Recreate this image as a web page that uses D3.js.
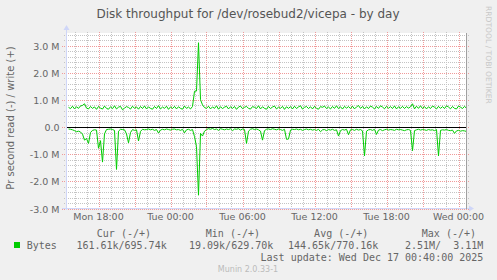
<!DOCTYPE html>
<html>
<head>
<meta charset="utf-8">
<script src="https://cdn.jsdelivr.net/npm/d3@7"></script>
<style>
  body { margin: 0; background: #f0f0f0; }
  svg { display: block; }
  text { font-family: "DejaVu Sans", sans-serif; fill: #666; }
  .mono { font-family: "DejaVu Sans Mono", monospace; font-size: 10px; white-space: pre; }
</style>
</head>
<body>
<script>
// time window of the "by day" graph (UTC, one sample every 10 minutes)
var startTime = Date.UTC(2025, 11, 15, 15, 20);
var endTime = Date.UTC(2025, 11, 17, 0, 40);
var stepMinutes = 10;

// write (+) bytes per second, in k
var writeK = [
  730,680,770,670,750,690,780,800,860,700,
  670,760,690,745,655,760,700,665,775,690,
  660,750,680,785,670,735,765,640,700,755,
  725,665,770,690,745,660,760,685,780,670,
  745,690,660,760,685,790,670,740,690,770,
  655,745,685,765,670,750,690,660,775,690,
  740,670,760,1320,1330,3110,1010,820,720,690,
  770,670,745,690,785,660,750,685,735,770,
  670,750,690,760,655,740,775,680,730,765,
  690,665,755,730,685,785,670,750,690,660,
  760,685,740,775,670,735,690,765,655,750,
  690,755,670,770,685,745,785,665,730,760,
  685,750,670,765,690,660,755,730,775,685,
  740,670,760,690,785,680,750,665,765,700,
  755,685,770,670,745,795,690,760,670,750,
  685,775,735,670,760,690,785,740,675,765,
  695,755,685,780,670,750,690,765,685,755,
  700,750,860,670,770,690,785,685,755,670,
  750,685,775,735,670,765,690,755,685,785,
  740,675,760,690,670,775,735,685,765,695
];

// read (-) bytes per second, in k (drawn below zero)
var readK = [
  70,80,100,130,170,150,180,260,480,420,
  600,200,120,100,110,780,500,1290,250,90,
  80,70,90,120,1560,150,80,90,100,250,
  580,200,90,120,100,510,160,80,100,90,
  70,100,80,120,90,220,110,80,100,70,
  90,110,80,70,100,90,120,80,210,100,
  80,120,90,350,720,2510,230,330,150,90,
  60,80,50,90,70,120,60,80,100,70,
  90,60,130,70,80,60,110,70,90,600,
  150,80,60,90,70,100,150,480,130,80,
  70,90,60,80,100,70,90,120,80,450,
  440,110,80,90,70,100,80,120,90,70,
  100,80,110,90,120,80,170,100,90,130,
  90,110,80,120,100,330,130,90,110,80,
  280,100,90,120,80,110,90,140,1060,150,
  100,90,120,80,270,110,90,130,100,80,
  110,90,100,120,80,100,90,110,130,100,
  90,120,870,130,100,80,110,90,100,120,
  90,110,100,130,90,1060,120,100,110,90,
  120,130,110,230,140,120,150,130,140,160
];

var yTicks = [-3e6, -2e6, -1e6, 0, 1e6, 2e6, 3e6];
var yTickLabels = ["-3.0 M", "-2.0 M", "-1.0 M", "0.0", "1.0 M", "2.0 M", "3.0 M"];

var xTickTimes = [
  Date.UTC(2025, 11, 15, 18), Date.UTC(2025, 11, 16, 0), Date.UTC(2025, 11, 16, 6),
  Date.UTC(2025, 11, 16, 12), Date.UTC(2025, 11, 16, 18), Date.UTC(2025, 11, 17, 0)
];
var xTickLabels = ["Mon 18:00", "Tue 00:00", "Tue 06:00", "Tue 12:00", "Tue 18:00", "Wed 00:00"];

var legendHeads = ["Cur (-/+)", "Min (-/+)", "Avg (-/+)", "Max (-/+)"];
var legendValues = ["161.61k/695.74k", "19.09k/629.70k", "144.65k/770.16k", "2.51M/  3.11M"];

var width = 497, height = 280;
var plotLeft = 66.5, plotRight = 466.5, plotTop = 33.5, plotBottom = 208.5;

var svg = d3.select('body').append('svg').attr('width', width).attr('height', height);

svg.append('rect').attr('width', width).attr('height', height).attr('fill', '#f0f0f0');

var x = d3.scaleUtc().domain([startTime, endTime]).range([plotLeft, plotRight]);
var y = d3.scaleLinear().domain([-3e6, 3.45e6]).range([plotBottom, plotTop]);

svg.append('rect')
  .attr('x', plotLeft).attr('y', plotTop - 0.5)
  .attr('width', plotRight - plotLeft).attr('height', plotBottom - plotTop + 0.5)
  .attr('fill', '#fff');

// minor grid
var minorY = d3.range(-30, 35, 2).map(function (v) { return v * 1e5; })
  .filter(function (v) { return Math.round(v / 1e5) % 10 !== 0; });
var hours = d3.utcHour.range(new Date(startTime), new Date(endTime));
var minorX = hours.filter(function (d) { return d.getUTCHours() % 3 !== 0; });
var majorX = hours.filter(function (d) { return d.getUTCHours() % 3 === 0; });

var grid = svg.append('g').attr('shape-rendering', 'crispEdges');
grid.selectAll('line.hmin').data(minorY).enter().append('line')
  .attr('x1', plotLeft - 3).attr('x2', plotRight + 2)
  .attr('y1', function (d) { return Math.round(y(d)) + 0.5; })
  .attr('y2', function (d) { return Math.round(y(d)) + 0.5; })
  .attr('stroke', '#c4c4c4').attr('stroke-dasharray', '1,1');
grid.selectAll('line.vmin').data(minorX).enter().append('line')
  .attr('x1', function (d) { return Math.round(x(d)) + 0.5; })
  .attr('x2', function (d) { return Math.round(x(d)) + 0.5; })
  .attr('y1', plotTop - 2).attr('y2', plotBottom)
  .attr('stroke', '#c4c4c4').attr('stroke-dasharray', '1,1');
grid.selectAll('line.hmaj').data(yTicks).enter().append('line')
  .attr('x1', plotLeft - 5).attr('x2', plotRight + 2)
  .attr('y1', function (d) { return Math.round(y(d)) + 0.5; })
  .attr('y2', function (d) { return Math.round(y(d)) + 0.5; })
  .attr('stroke', '#f09a9a').attr('stroke-dasharray', '1,1');
grid.selectAll('line.vmaj').data(majorX).enter().append('line')
  .attr('x1', function (d) { return Math.round(x(d)) + 0.5; })
  .attr('x2', function (d) { return Math.round(x(d)) + 0.5; })
  .attr('y1', plotTop - 2).attr('y2', plotBottom)
  .attr('stroke', '#f09a9a').attr('stroke-dasharray', '1,1');

// data lines
function timeAt(i) { return startTime + (i + 1) * stepMinutes * 60000; }

var line = d3.line()
  .x(function (d, i) { return x(timeAt(i)); })
  .y(function (d) { return y(d); });

svg.append('path')
  .datum(readK.map(function (v) { return -v * 1000; }))
  .attr('d', line).attr('fill', 'none').attr('stroke', '#00cc00').attr('stroke-width', 1);
svg.append('path')
  .datum(writeK.map(function (v) { return v * 1000; }))
  .attr('d', line).attr('fill', 'none').attr('stroke', '#00cc00').attr('stroke-width', 1);

// zero rule
svg.append('line')
  .attr('x1', plotLeft).attr('x2', plotRight)
  .attr('y1', Math.round(y(0)) + 0.5).attr('y2', Math.round(y(0)) + 0.5)
  .attr('stroke', '#000').attr('shape-rendering', 'crispEdges');

// axes and arrows
var axisCol = '#cfd6f8';
svg.append('line').attr('x1', plotLeft).attr('x2', plotLeft)
  .attr('y1', plotBottom + 1).attr('y2', 29)
  .attr('stroke', axisCol).attr('shape-rendering', 'crispEdges');
svg.append('line').attr('x1', 62).attr('x2', 470)
  .attr('y1', plotBottom).attr('y2', plotBottom)
  .attr('stroke', axisCol).attr('shape-rendering', 'crispEdges');
svg.append('path').attr('d', 'M63.5,30L69.5,30L66.5,25Z').attr('fill', axisCol);
svg.append('path').attr('d', 'M469,205.5L469,211.5L474,208.5Z').attr('fill', axisCol);

svg.append('line').attr('x1', plotRight).attr('x2', plotRight)
  .attr('y1', plotTop - 1).attr('y2', plotBottom)
  .attr('stroke', '#a0a0a0').attr('shape-rendering', 'crispEdges');

// y tick labels
svg.selectAll('text.ylab').data(yTicks).enter().append('text')
  .attr('x', 59.5).attr('y', function (d) { return Math.round(y(d)) + 3.5; })
  .attr('text-anchor', 'end').style('font-size', '9.5px')
  .text(function (d, i) { return yTickLabels[i]; });

// x tick labels
svg.selectAll('text.xlab').data(xTickTimes).enter().append('text')
  .attr('x', function (d) { return x(d); }).attr('y', 220)
  .attr('text-anchor', 'middle').style('font-size', '9.5px')
  .text(function (d, i) { return xTickLabels[i]; });

// title and axis title
svg.append('text').attr('x', 248).attr('y', 17.5).attr('text-anchor', 'middle')
  .style('font-size', '12px').style('fill', '#555')
  .text('Disk throughput for /dev/rosebud2/vicepa - by day');
svg.append('text').attr('transform', 'translate(13.5,118) rotate(-90)')
  .attr('text-anchor', 'middle').style('font-size', '10px')
  .text('Pr second read (-) / write (+)');

svg.append('text').attr('transform', 'translate(486,6) rotate(90)')
  .style('font-size', '7.6px').style('fill', '#c8c8c8')
  .text('RRDTOOL / TOBI OETIKER');

// legend
var headEnds = [151, 260, 368.3, 476];
var valueEnds = [166.7, 273.3, 378.3, 483.3];
svg.selectAll('text.head').data(legendHeads).enter().append('text')
  .attr('class', 'mono').attr('x', function (d, i) { return headEnds[i]; }).attr('y', 237)
  .attr('text-anchor', 'end').text(function (d) { return d; });
svg.append('rect').attr('x', 14).attr('y', 242).attr('width', 6).attr('height', 6).attr('fill', '#00cc00');
svg.append('text').attr('class', 'mono').attr('x', 26.7).attr('y', 249).text('Bytes');
svg.selectAll('text.val').data(legendValues).enter().append('text')
  .attr('class', 'mono').attr('x', function (d, i) { return valueEnds[i]; }).attr('y', 249)
  .attr('text-anchor', 'end').text(function (d) { return d; });
svg.append('text').attr('class', 'mono').attr('x', 483.3).attr('y', 261)
  .attr('text-anchor', 'end').text('Last update: Wed Dec 17 00:40:00 2025');

svg.append('text').attr('x', 248).attr('y', 272).attr('text-anchor', 'middle')
  .style('font-size', '8px').style('fill', '#bbb')
  .text('Munin 2.0.33-1');
</script>
</body>
</html>
